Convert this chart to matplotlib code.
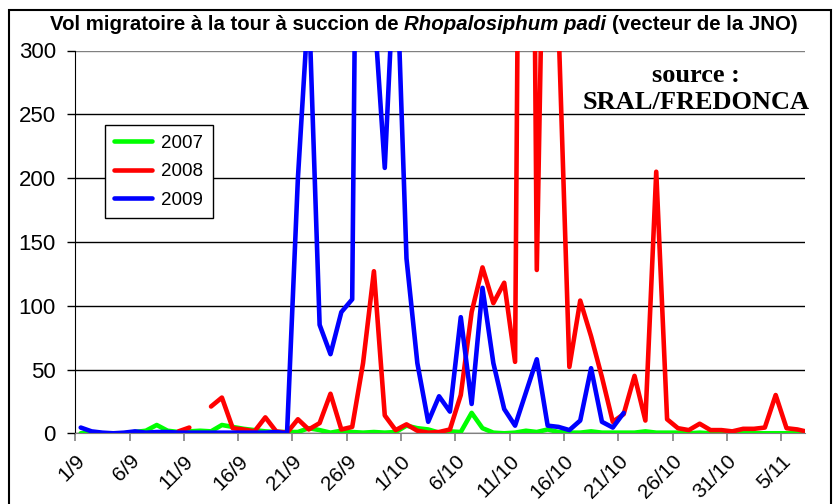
import numpy as np
import matplotlib
matplotlib.use('Agg')
import matplotlib.pyplot as plt
from matplotlib.offsetbox import TextArea, HPacker, AnchoredOffsetbox
from matplotlib.patches import Rectangle

# jours du 1/9 au 7/11
dates_ticks = ['1/9', '6/9', '11/9', '16/9', '21/9', '26/9', '1/10', '6/10',
               '11/10', '16/10', '21/10', '26/10', '31/10', '5/11']
nan = np.nan

v2007 = [0, 0.5, 0, 0, 0, 1, 2, 6.5, 2, 1, 1.5, 2, 1.5, 6.5, 5, 3.5, 2.5, 1.5, 1, 1,
         1, 4, 2.5, 0.5, 2, 1, 0.5, 1, 0.5, 1, 6, 4, 3, 0.5, 1.5, 1, 16, 4, 0.5, 0,
         0.5, 2, 1, 3, 1, 0.5, 0.5, 1.5, 0.5, 0.5, 0.5, 0.5, 1.5, 0.5, 0.5, 0.5, 0, 0.5,
         0, 0, 0, 0, 0, 0, 0, 0, 0, 0]
v2008 = [nan, nan, nan, nan, nan, nan, nan, nan, nan, 1.5, 4.5, nan, 21, 28, 4, 3, 1.5,
         12.5, 1.5, 0.5, 11, 3, 8, 31, 3, 5, 55, 127, 14, 2.5, 7, 2, 0.5, 1, 3, 30, 95,
         130, 102, 118, 56, 1200, 128, 600, 320, 52, 104, 76, 44, 9, 15, 45, 10, 205,
         11, 4, 2.5, 7.5, 2.5, 2.5, 1.5, 3.5, 3.5, 4.5, 30, 4, 3, 1]
v2009 = [4.5, 1.5, 0.5, 0, 0.5, 1.5, 0.5, 1, 1, 0.5, 0.5, 0.5, 0.5, 0.5, 0.5, 0.5, 0.5,
         0.5, 1, 0, 200, 340, 85, 62, 95, 105, 1000, 335, 208, 390, 137, 55, 9, 29, 17,
         91, 23, 114, 55, 19, 6, 32, 58, 6, 5, 2.5, 10, 51, 9, 4.5, 16] + [nan] * 17

plt.rcParams['font.family'] = ['Liberation Sans', 'DejaVu Sans']

fig = plt.figure(figsize=(8.4, 5.04), dpi=100)
ax = fig.add_axes([75.3 / 840, 1 - 433.3 / 504, (805 - 75.3) / 840, (433.3 - 50.5) / 504])

x = np.arange(len(v2007)) + 0.5
for vals, col, lab in [(v2007, '#00ff00', '2007'), (v2008, '#ff0000', '2008'),
                       (v2009, '#0000ff', '2009')]:
    ax.plot(x, vals, color=col, lw=3.3, label=lab,
            solid_capstyle='round', solid_joinstyle='round')

ax.set_xlim(0, 67.2)
ax.set_ylim(0, 300)
ax.set_yticks(range(0, 301, 50))
ax.yaxis.grid(True, color='black', lw=1)
ax.get_ygridlines()[-1].set_color('#808080')
ax.set_axisbelow(True)
ax.set_xticks(np.arange(0, 66, 5))
ax.set_xticklabels(dates_ticks, rotation=45, ha='right', va='top',
                   rotation_mode='anchor', fontsize=15)
ax.tick_params(axis='y', labelsize=16, length=6, width=1, pad=8)
ax.tick_params(axis='x', length=6, width=1.2, color='#808080', pad=7)
for s in ['top', 'right']:
    ax.spines[s].set_visible(False)
ax.spines['bottom'].set_color('#808080')
ax.spines['left'].set_color('black')

leg = ax.legend(loc='upper left', bbox_to_anchor=(105 / 840, 1 - 125 / 504),
                bbox_transform=fig.transFigure, borderaxespad=0, fancybox=False,
                framealpha=1, edgecolor='black', fontsize=13.5, handlelength=2.0,
                handletextpad=0.5, labelspacing=0.62, borderpad=0.5)
leg.get_frame().set_linewidth(1)

# titre avec nom latin en italique
t1 = TextArea('Vol migratoire à la tour à succion de',
              textprops=dict(fontsize=14.7, fontweight='bold'))
t2 = TextArea('Rhopalosiphum padi',
              textprops=dict(fontsize=14.7, fontweight='bold', fontstyle='italic'))
t3 = TextArea('(vecteur de la JNO)', textprops=dict(fontsize=14.7, fontweight='bold'))
box = HPacker(children=[t1, t2, t3], align='baseline', pad=0, sep=4)
anch = AnchoredOffsetbox(loc='center', child=box, pad=0, frameon=False,
                         bbox_to_anchor=(424 / 840, 1 - 25 / 504),
                         bbox_transform=fig.transFigure, borderpad=0)
fig.add_artist(anch)

fig.text(696 / 840, 1 - 89 / 504, 'source :\nSRAL/FREDONCA', ha='center', va='center',
         family='Liberation Serif', fontweight='bold', fontsize=19, linespacing=1.2)

fig.patches.append(Rectangle((8.5 / 840, -0.05), (831 - 8.5) / 840, 1.05 - 10 / 504,
                             transform=fig.transFigure, fill=False,
                             edgecolor='black', lw=1.5))

fig.savefig('out.png', dpi=100)
